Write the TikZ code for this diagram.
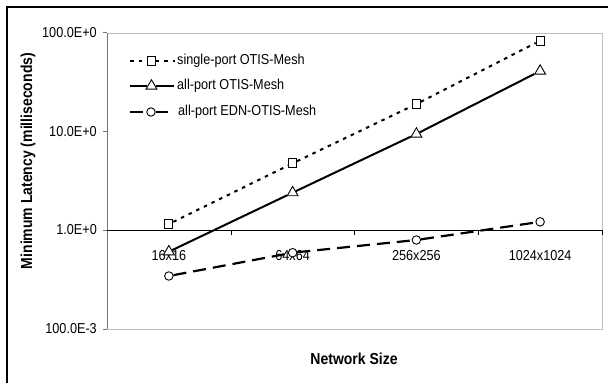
\documentclass[tikz,border=0pt]{standalone}
\usepackage{fontspec}
\setmainfont{Liberation Sans}[FakeStretch=0.88]
\usetikzlibrary{shapes.geometric}

\tikzset{
  mk/.style={draw=black, fill=white, line width=0.9pt, inner sep=0pt},
  sqmark/.style={mk, rectangle, minimum width=8pt, minimum height=9pt},
  trimark/.style={mk, regular polygon, regular polygon sides=3, minimum size=12.5pt},
  cirmark/.style={mk, circle, minimum size=8.5pt},
  sport/.style={line width=2pt, dash pattern=on 3.5pt off 5pt},
  aport/.style={line width=2pt},
  ednport/.style={line width=2.2pt, dash pattern=on 13pt off 7pt},
  ticklbl/.style={font=\fontsize{14.4}{16}\selectfont, inner sep=0pt},
  axlbl/.style={font=\fontsize{15.9}{18}\selectfont\bfseries, inner sep=0pt},
}

\begin{document}
\begin{tikzpicture}[x=1pt, y=-1pt]
    \def \ybase {230}   % y of 1.0E+0
    \def \dec {98.7}    % height of one decade
    \def \xl {107}
    \def \xr {602}
    \def \cw {123.75}   % width of one category
    \useasboundingbox (0,0) rectangle (608,383);
    \draw[line width=1.3pt] (608,7) -- (7,7) -- (7,383);

    % plot area and axes
    \draw[black!25] (\xl,33) rectangle (\xr,329);
    \draw[black!55] (\xl,33) -- (\xl,329);
    \foreach \e/\t [count=\i] in {2/100.0E+0, 1/10.0E+0, 0/1.0E+0, -1/100.0E-3}
    {
      \node[ticklbl, anchor=east] (yl\i) at (97, {\ybase-\dec*\e}) {\t};
      \draw[black!55] (103, {\ybase-\dec*\e}) -- (\xl, {\ybase-\dec*\e});
    }
    \draw (\xl,\ybase) -- (\xr,\ybase);
    \foreach \k in {1,...,4}
      \draw ({\xl+\k*\cw}, \ybase) -- +(0,5);
    \foreach \t [count=\k] in {16x16, 64x64, 256x256, 1024x1024}
      \node[ticklbl] (xl\k) at ({\xl+(\k-0.5)*\cw}, 255.5) {\t};

    \node[axlbl] (xt) at (354,359) {Network Size};
    \node[axlbl, rotate=90] (yt) at (28,161) {Minimum Latency (milliseconds)};

    % data points
    \foreach \v [count=\k] in {1.15, 4.74, 18.9, 82.8}
      \node[sqmark] (s\k) at ({\xl+(\k-0.5)*\cw}, {\ybase-\dec*log10(\v)}) {};
    \foreach \v [count=\k] in {0.603, 2.39, 9.39, 40.8}
      \node[trimark] (a\k) at ({\xl+(\k-0.5)*\cw}, {\ybase-\dec*log10(\v)}) {};
    \foreach \v [count=\k] in {0.342, 0.589, 0.792, 1.21}
      \node[cirmark] (e\k) at ({\xl+(\k-0.5)*\cw}, {\ybase-\dec*log10(\v)}) {};
    \draw[sport] (s1) -- (s2) -- (s3) -- (s4);
    \draw[aport] (a1) -- (a2) -- (a3) -- (a4);
    \draw[ednport] (e1) -- (e2) -- (e3) -- (e4);

    % legend
    \coordinate (ls1) at (130,61);
    \coordinate (ls2) at (175,61);
    \node[sqmark] (lsm) at (151.5,61) {};
    \draw[sport] (ls1) -- (lsm) -- (ls2);
    \node[ticklbl, anchor=west] (lst) at (177,61) {single-port OTIS-Mesh};

    \coordinate (la1) at (130,86);
    \coordinate (la2) at (174,86);
    \node[trimark] (lam) at (151.5,86) {};
    \draw[aport] (la1) -- (lam) -- (la2);
    \node[ticklbl, anchor=west] (lat) at (177,86) {all-port OTIS-Mesh};

    \coordinate (le1) at (130,112);
    \coordinate (le2) at (168,112);
    \node[cirmark] (lem) at (151,112) {};
    \draw[ednport] (le1) -- (lem);
    \draw[ednport] (lem) -- (le2);
    \node[ticklbl, anchor=west] (let) at (178,112) {all-port EDN-OTIS-Mesh};
\end{tikzpicture}
\end{document}
